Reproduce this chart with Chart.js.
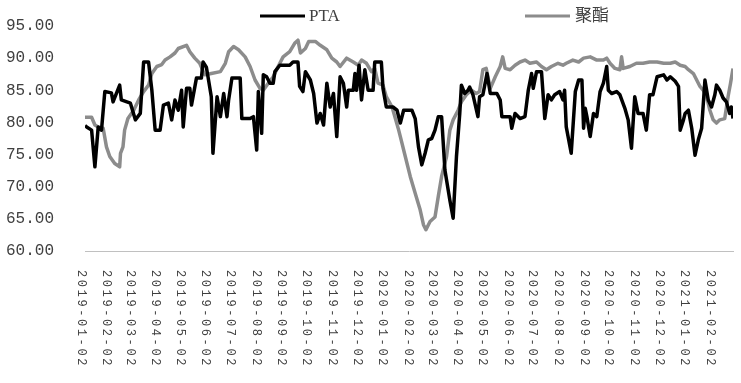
<!DOCTYPE html>
<html><head><meta charset="utf-8">
<script src="https://cdn.jsdelivr.net/npm/chart.js@4/dist/chart.umd.min.js"></script>
<style>html,body{margin:0;padding:0;background:#fff;}#wrap{width:741px;height:383px;}</style>
</head><body><div id="wrap"><canvas id="c" width="741" height="383"></canvas></div>
<script>
const seriesNames = ['PTA', '聚酯'];
const xTickLabels = ['2019-01-02','2019-02-02','2019-03-02','2019-04-02','2019-05-02','2019-06-02','2019-07-02','2019-08-02','2019-09-02','2019-10-02','2019-11-02','2019-12-02','2020-01-02','2020-02-02','2020-03-02','2020-04-02','2020-05-02','2020-06-02','2020-07-02','2020-08-02','2020-09-02','2020-10-02','2020-11-02','2020-12-02','2021-01-02','2021-02-02'];
const xStart = '2019-01-02';
const xEnd = '2021-02-25';
const yTicks = [60, 65, 70, 75, 80, 85, 90, 95];

const ptaDates = ['2019-01-02','2019-01-04','2019-01-10','2019-01-14','2019-01-18','2019-01-22','2019-01-26','2019-02-03','2019-02-05','2019-02-13','2019-02-15','2019-02-26','2019-03-04','2019-03-10','2019-03-14','2019-03-20','2019-03-24','2019-03-28','2019-04-03','2019-04-07','2019-04-13','2019-04-17','2019-04-21','2019-04-25','2019-04-29','2019-05-01','2019-05-05','2019-05-09','2019-05-11','2019-05-17','2019-05-23','2019-05-25','2019-05-29','2019-05-31','2019-06-04','2019-06-06','2019-06-11','2019-06-15','2019-06-19','2019-06-23','2019-06-25','2019-06-29','2019-07-09','2019-07-11','2019-07-21','2019-07-25','2019-07-29','2019-07-31','2019-08-04','2019-08-06','2019-08-10','2019-08-14','2019-08-18','2019-08-20','2019-08-26','2019-09-07','2019-09-11','2019-09-17','2019-09-19','2019-09-23','2019-09-26','2019-10-02','2019-10-06','2019-10-10','2019-10-14','2019-10-18','2019-10-22','2019-10-26','2019-10-30','2019-11-03','2019-11-07','2019-11-11','2019-11-15','2019-11-17','2019-11-23','2019-11-25','2019-11-27','2019-11-30','2019-12-03','2019-12-07','2019-12-11','2019-12-17','2019-12-19','2019-12-27','2019-12-29','2020-01-02','2020-01-10','2020-01-15','2020-01-19','2020-01-23','2020-02-02','2020-02-06','2020-02-10','2020-02-14','2020-02-18','2020-02-22','2020-02-26','2020-03-01','2020-03-05','2020-03-09','2020-03-13','2020-03-19','2020-03-23','2020-03-27','2020-03-31','2020-04-02','2020-04-06','2020-04-10','2020-04-12','2020-04-16','2020-04-22','2020-04-24','2020-04-28','2020-05-03','2020-05-07','2020-05-15','2020-05-19','2020-05-21','2020-05-31','2020-06-02','2020-06-06','2020-06-12','2020-06-18','2020-06-22','2020-06-26','2020-06-28','2020-07-02','2020-07-08','2020-07-12','2020-07-16','2020-07-20','2020-07-24','2020-07-30','2020-08-03','2020-08-05','2020-08-07','2020-08-13','2020-08-18','2020-08-22','2020-08-26','2020-08-28','2020-08-30','2020-09-01','2020-09-05','2020-09-09','2020-09-13','2020-09-17','2020-09-21','2020-09-25','2020-09-27','2020-10-01','2020-10-07','2020-10-11','2020-10-17','2020-10-21','2020-10-25','2020-10-29','2020-11-02','2020-11-08','2020-11-12','2020-11-16','2020-11-20','2020-11-25','2020-12-03','2020-12-07','2020-12-11','2020-12-17','2020-12-21','2020-12-23','2020-12-27','2020-12-29','2021-01-02','2021-01-06','2021-01-10','2021-01-14','2021-01-18','2021-01-22','2021-01-26','2021-01-30','2021-02-03','2021-02-05','2021-02-09','2021-02-13','2021-02-17','2021-02-21','2021-02-23','2021-02-25'];
const ptaValues = [79.5,79.3,78.8,73.1,79.3,78.8,84.8,84.6,83.2,85.8,83.5,83.0,80.4,81.4,89.4,89.4,85.0,78.8,78.8,82.7,83.0,80.4,83.5,81.9,85.0,79.3,85.3,85.3,82.7,86.9,86.9,89.4,88.6,87.1,84.0,75.2,84.0,80.9,84.5,80.9,83.5,86.9,86.9,80.6,80.6,80.9,75.7,84.8,78.3,87.4,87.1,86.1,86.1,87.9,88.9,88.9,89.4,89.4,85.6,84.8,87.9,86.6,84.5,79.9,81.4,79.6,86.1,82.4,84.5,77.8,87.1,86.1,82.4,85.0,85.0,87.6,85.0,88.9,83.5,88.2,85.0,85.0,89.4,89.4,85.3,82.4,82.4,81.9,79.9,81.9,81.9,80.6,76.2,73.4,75.2,77.3,77.5,78.8,80.9,80.9,72.6,67.9,65.1,74.7,81.4,85.8,84.5,85.0,85.5,84.3,80.9,84.0,84.3,87.6,84.5,84.5,83.5,80.9,80.9,79.1,81.4,80.6,80.9,85.0,87.6,85.3,87.9,87.9,80.6,84.3,83.5,84.3,84.8,83.5,85.0,79.3,75.2,84.8,86.6,86.6,79.1,82.2,80.9,77.8,81.4,80.9,84.8,86.1,88.7,85.0,84.5,84.8,84.3,82.2,80.4,76.0,84.0,81.4,81.4,78.8,84.3,84.3,87.1,87.4,86.6,87.1,86.4,85.6,78.8,80.4,81.4,81.9,79.1,74.9,77.3,79.1,86.6,83.5,82.4,84.3,85.8,85.0,83.8,83.2,81.4,82.4,80.6];

const petDates = ['2019-01-02','2019-01-04','2019-01-10','2019-01-14','2019-01-18','2019-01-24','2019-01-28','2019-02-01','2019-02-07','2019-02-13','2019-02-14','2019-02-17','2019-02-19','2019-02-23','2019-03-02','2019-03-08','2019-03-14','2019-03-20','2019-03-24','2019-03-30','2019-04-05','2019-04-09','2019-04-15','2019-04-21','2019-04-25','2019-05-05','2019-05-09','2019-05-15','2019-05-21','2019-05-27','2019-06-04','2019-06-15','2019-06-21','2019-06-25','2019-07-01','2019-07-07','2019-07-15','2019-07-21','2019-07-27','2019-08-02','2019-08-06','2019-08-12','2019-08-18','2019-08-24','2019-08-30','2019-09-07','2019-09-13','2019-09-17','2019-09-20','2019-09-26','2019-09-30','2019-10-08','2019-10-14','2019-10-22','2019-10-28','2019-11-03','2019-11-07','2019-11-15','2019-11-23','2019-11-29','2019-12-03','2019-12-09','2019-12-15','2019-12-19','2019-12-23','2019-12-29','2020-01-02','2020-01-09','2020-01-13','2020-01-17','2020-01-19','2020-01-25','2020-01-31','2020-02-06','2020-02-12','2020-02-16','2020-02-19','2020-02-24','2020-03-01','2020-03-05','2020-03-09','2020-03-15','2020-03-19','2020-03-23','2020-03-29','2020-04-02','2020-04-08','2020-04-14','2020-04-20','2020-04-24','2020-04-28','2020-05-02','2020-05-07','2020-05-13','2020-05-19','2020-05-22','2020-05-25','2020-05-31','2020-06-06','2020-06-12','2020-06-18','2020-06-24','2020-07-02','2020-07-08','2020-07-14','2020-07-20','2020-07-28','2020-08-03','2020-08-07','2020-08-15','2020-08-22','2020-08-28','2020-09-05','2020-09-13','2020-09-21','2020-09-25','2020-09-29','2020-10-05','2020-10-11','2020-10-13','2020-10-15','2020-10-23','2020-10-31','2020-11-08','2020-11-16','2020-11-25','2020-12-03','2020-12-11','2020-12-17','2020-12-23','2020-12-29','2021-01-02','2021-01-08','2021-01-12','2021-01-16','2021-01-20','2021-01-24','2021-01-28','2021-02-01','2021-02-05','2021-02-09','2021-02-15','2021-02-19','2021-02-22','2021-02-25'];
const petValues = [80.8,80.8,80.8,79.6,79.3,79.1,76.2,74.7,73.6,73.1,75.2,76.2,78.8,80.6,81.9,83.5,84.8,85.8,87.6,88.7,89.0,89.7,90.2,90.8,91.5,92.0,91.0,90.0,89.2,87.4,87.6,87.9,89.2,91.0,91.8,91.3,90.2,88.7,86.6,85.3,85.0,86.1,87.1,88.7,90.2,91.0,92.3,92.8,90.8,91.5,92.6,92.6,92.0,91.3,90.0,89.4,88.7,90.0,89.4,88.9,89.7,89.2,87.9,88.4,86.1,85.8,84.0,82.4,80.6,78.8,77.8,74.7,71.6,69.0,66.4,64.1,63.3,64.6,65.3,68.5,71.6,74.7,78.8,80.4,81.9,83.2,84.3,85.0,84.5,84.8,88.2,88.4,85.3,87.1,88.7,90.2,88.4,88.2,88.9,89.4,89.7,89.2,89.4,88.7,88.2,88.7,89.2,88.9,89.2,89.7,89.4,90.0,90.2,89.7,89.7,90.0,89.2,88.4,88.2,90.2,88.4,88.7,89.2,89.2,89.4,89.4,89.2,89.2,89.4,88.9,88.7,88.2,87.6,86.6,85.6,85.0,84.0,81.9,80.4,79.9,80.4,80.6,84.0,86.1,88.4];

const DAY = 86400000;
function dayOf(s) {
  const p = s.split('-').map(Number);
  const q = xStart.split('-').map(Number);
  return Math.round((Date.UTC(p[0], p[1] - 1, p[2]) - Date.UTC(q[0], q[1] - 1, q[2])) / DAY);
}
function toPoints(dates, values) {
  return dates.map((d, i) => ({ x: dayOf(d), y: values[i] }));
}

const TEXT = '#404040';
const colors = ['#000000', '#8c8c8c'];

const customDraw = {
  id: 'customDraw',
  afterDraw(chart) {
    const ctx = chart.ctx;
    const xs = chart.scales.x;
    const top = chart.chartArea.bottom + 19;
    ctx.save();
    ctx.fillStyle = TEXT;
    ctx.font = '12px "Liberation Mono"';
    if ('letterSpacing' in ctx) ctx.letterSpacing = '2.6px';
    ctx.textAlign = 'left';
    ctx.textBaseline = 'middle';
    xTickLabels.forEach(lbl => {
      const px = xs.getPixelForValue(dayOf(lbl)) - 4;
      ctx.save();
      ctx.translate(px, top);
      ctx.rotate(Math.PI / 2);
      ctx.fillText(lbl, 0, 0);
      ctx.restore();
    });
    if ('letterSpacing' in ctx) ctx.letterSpacing = '0px';
    // legend
    const legendPos = [{ x0: 260, x1: 305, tx: 309 }, { x0: 525, x1: 570, tx: 575 }];
    const ly = 16;
    chart.data.datasets.forEach((ds, i) => {
      const p = legendPos[i];
      ctx.strokeStyle = ds.borderColor;
      ctx.lineWidth = 3;
      ctx.beginPath();
      ctx.moveTo(p.x0, ly);
      ctx.lineTo(p.x1, ly);
      ctx.stroke();
      ctx.fillStyle = TEXT;
      ctx.font = '17px "Liberation Serif", "Noto Sans CJK SC"';
      ctx.textAlign = 'left';
      ctx.textBaseline = 'middle';
      ctx.fillText(ds.label, p.tx, ly + 1);
    });
    ctx.restore();
  }
};

new Chart(document.getElementById('c'), {
  type: 'line',
  data: {
    datasets: [
      { label: seriesNames[0], data: toPoints(ptaDates, ptaValues), borderColor: colors[0], backgroundColor: colors[0], borderWidth: 3.5, pointRadius: 0, tension: 0, borderJoinStyle: 'round' },
      { label: seriesNames[1], data: toPoints(petDates, petValues), borderColor: colors[1], backgroundColor: colors[1], borderWidth: 3.5, pointRadius: 0, tension: 0, borderJoinStyle: 'round' }
    ]
  },
  options: {
    responsive: false,
    animation: false,
    devicePixelRatio: 1,
    layout: { padding: { top: 26, right: 8, left: 0, bottom: 0 } },
    plugins: { legend: { display: false }, tooltip: { enabled: false } },
    scales: {
      x: {
        type: 'linear',
        min: dayOf(xStart),
        max: dayOf(xEnd),
        grid: { display: false },
        border: { display: true, color: '#c0c0c0', width: 1 },
        ticks: { display: false },
        afterBuildTicks(scale) { scale.ticks = xTickLabels.map(l => ({ value: dayOf(l) })); },
        afterFit(scale) { scale.height = 132; scale.paddingLeft = 0; scale.paddingRight = 0; }
      },
      y: {
        min: yTicks[0],
        max: yTicks[yTicks.length - 1],
        grid: { display: false, drawTicks: false },
        border: { display: false },
        ticks: {
          stepSize: 5,
          padding: 31,
          color: TEXT,
          font: { family: '"Liberation Mono"', size: 16 },
          callback: v => Number(v).toFixed(2)
        },
        afterBuildTicks(scale) { scale.ticks = yTicks.map(v => ({ value: v })); },
        afterFit(scale) { scale.width = 85; scale.paddingTop = 0; scale.paddingBottom = 0; }
      }
    }
  },
  plugins: [customDraw]
});
</script>
</body></html>
